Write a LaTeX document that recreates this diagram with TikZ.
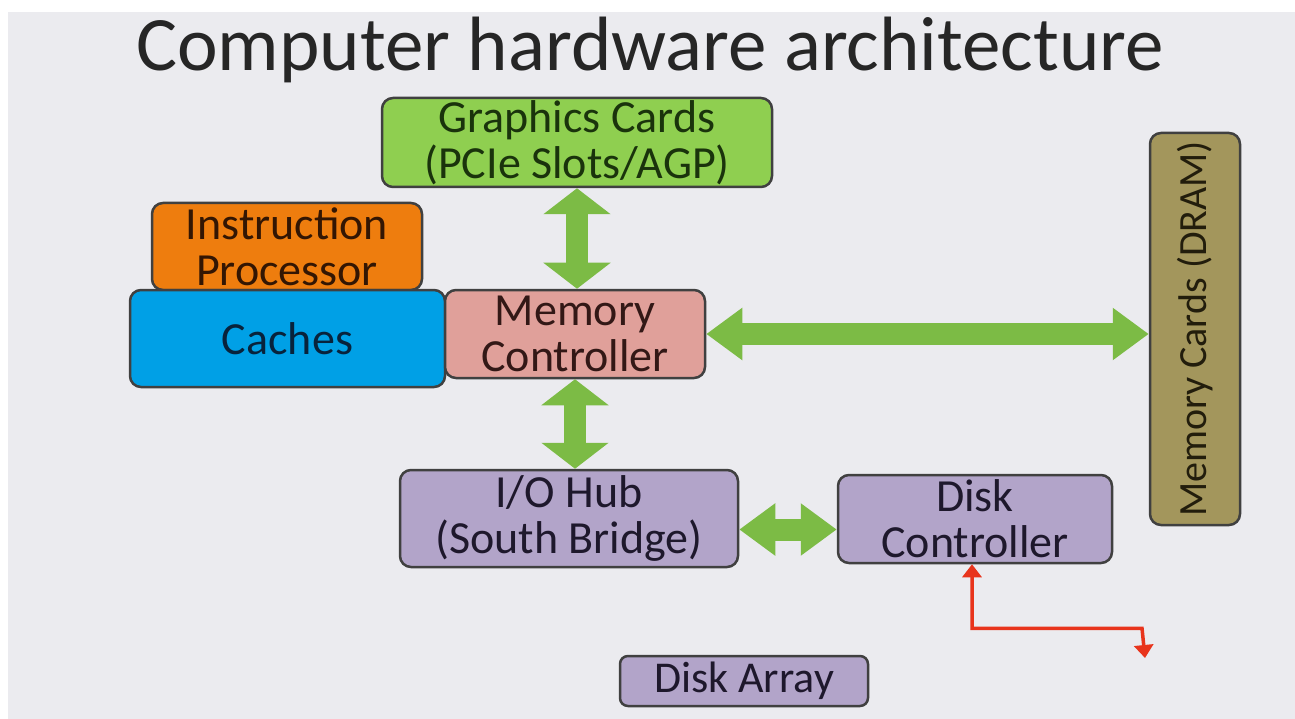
\documentclass[tikz,border=0pt]{standalone}
\usepackage{fontspec}
\setmainfont{Carlito}
\usetikzlibrary{arrows.meta}

\definecolor{slidebg}{HTML}{EBEBEF}
\definecolor{gfxfill}{HTML}{8FCF50}
\definecolor{gfxtext}{HTML}{1A330C}
\definecolor{cpufill}{HTML}{EE7D0E}
\definecolor{cputext}{HTML}{331603}
\definecolor{cachefill}{HTML}{00A0E6}
\definecolor{cachetext}{HTML}{08233C}
\definecolor{mcfill}{HTML}{E0A09A}
\definecolor{mctext}{HTML}{331816}
\definecolor{dramfill}{HTML}{A3965C}
\definecolor{dramtext}{HTML}{221D0C}
\definecolor{iofill}{HTML}{B2A4C9}
\definecolor{iotext}{HTML}{1E182C}
\definecolor{busgreen}{HTML}{7CBB45}
\definecolor{linkred}{HTML}{E8341C}

\tikzset{
  blk/.style={draw=black!75, line width=2.5pt, rounded corners=11pt, align=center, inner sep=0pt,
    font=\fontsize{46}{46}\selectfont},
  bus/.style={busgreen, line width=22pt,
    {Triangle[width=66pt,length=26pt]}-{Triangle[width=66pt,length=26pt]}},
  hbus/.style={busgreen, line width=22pt,
    {Triangle[width=50pt,length=36pt]}-{Triangle[width=50pt,length=36pt]}},
  wire/.style={linkred, line width=3.5pt,
    {Triangle[width=19pt,length=13pt]}-{Triangle[width=19pt,length=13pt]}}
}

\begin{document}
\begin{tikzpicture}[x=1pt, y=-1pt]
  \useasboundingbox (0,0) rectangle (1295,719);
  \fill[white] (0,0) rectangle (1295,719);
  \fill[slidebg] (8,12) rectangle (1295,719);

  \node[text=black!85, font=\fontsize{77}{80}\selectfont] (title) at (650,50) {Computer hardware architecture};

  \node[blk, fill=gfxfill, text=gfxtext, minimum width=390pt, minimum height=89pt] (gfx) at (577,142.5) {Graphics Cards\\(PCIe Slots/AGP)};
  \node[blk, fill=cpufill, text=cputext, minimum width=270pt, minimum height=87pt] (cpu) at (287,246.5) {Instruction\\Processor};
  \node[blk, fill=cachefill, text=cachetext, minimum width=315pt, minimum height=97pt] (cache) at (287.5,338.5) {Caches};
  \node[blk, fill=mcfill, text=mctext, minimum width=260pt, minimum height=88pt] (mc) at (575,334) {Memory\\Controller};
  \node[blk, fill=dramfill, text=dramtext, minimum width=90pt, minimum height=392pt,
    font=\fontsize{40}{40}\selectfont] (dram) at (1195,329) {\rotatebox{90}{Memory Cards (DRAM)}};
  \node[blk, fill=iofill, text=iotext, minimum width=338pt, minimum height=97pt] (iohub) at (569,518.5) {I/O Hub\\(South Bridge)};
  \node[blk, fill=iofill, text=iotext, minimum width=274pt, minimum height=88pt] (diskctl) at (975,519) {Disk\\Controller};
  \node[blk, fill=iofill, text=iotext, minimum width=248pt, minimum height=50pt, rounded corners=8pt,
    font=\fontsize{44}{44}\selectfont] (diskarr) at (744,681) {Disk Array};

  \coordinate (wireend) at (1145,658);

  \draw[bus] (gfx.south) -- (gfx.south |- mc.north);
  \draw[bus] (mc.south) -- (mc.south |- iohub.north);
  \draw[hbus] (mc.east) -- (mc.east -| dram.west);
  \draw[hbus] ([yshift=-11pt]iohub.east) -- ([yshift=-11pt]iohub.east -| diskctl.west);
  \draw[wire] ([xshift=-3pt]diskctl.south) |- ([xshift=-3pt,yshift=-64pt]diskctl.south -| wireend) -- (wireend);
\end{tikzpicture}
\end{document}
